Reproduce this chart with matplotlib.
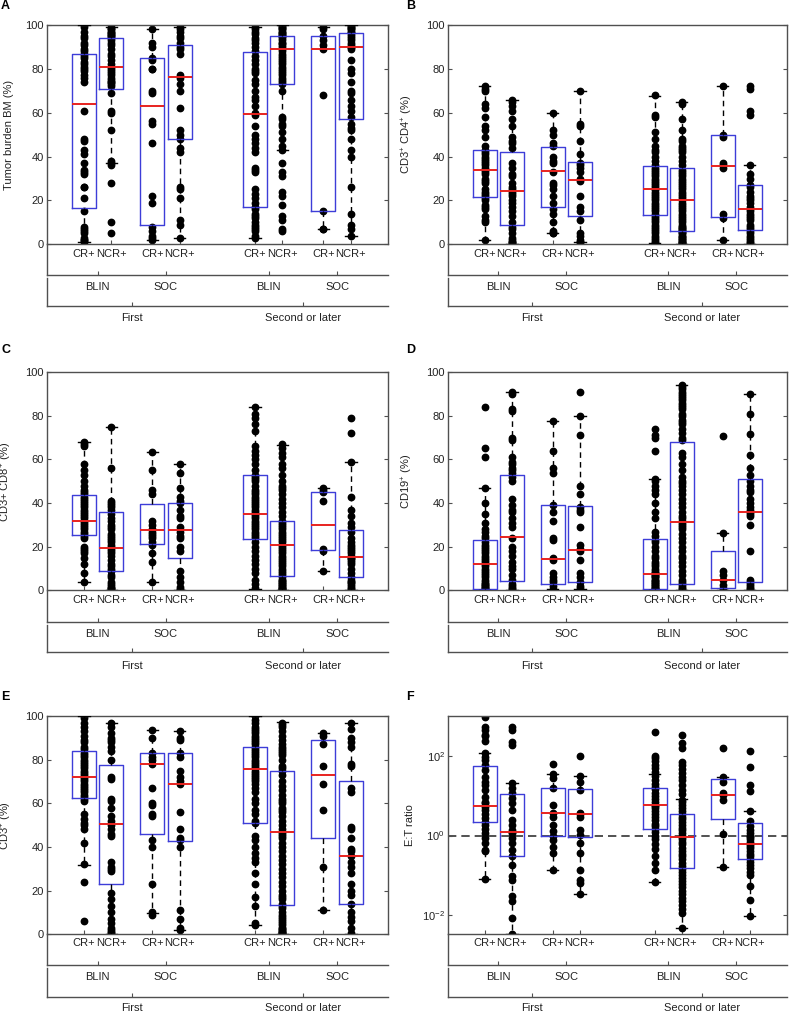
import numpy as np
import matplotlib.pyplot as plt

plt.rcParams['font.family'] = ['Liberation Sans', 'DejaVu Sans']
plt.rcParams['mathtext.fontset'] = 'custom'
plt.rcParams['mathtext.rm'] = 'Liberation Sans'
plt.rcParams['mathtext.it'] = 'Liberation Sans:italic'
plt.rcParams['font.size'] = 8

# group order: BLIN/First CR+, NCR+, SOC/First CR+, NCR+, BLIN/Second CR+, NCR+, SOC/Second CR+, NCR+
response = ['CR+', 'NCR+'] * 4
therapy = ['BLIN', 'SOC', 'BLIN', 'SOC']
line_of_therapy = ['First', 'Second or later']

# --- A: tumor burden BM (%)
tumor_bm = [
    [100, 99, 97, 95, 94, 92, 91, 89, 88, 87, 86, 85, 83, 82, 81, 80, 79, 77, 76, 74, 61, 48, 47, 43, 41, 37, 34, 33, 32, 26, 26, 21, 15, 8, 7, 6, 5, 3, 2, 2, 1],
    [99, 98, 98, 97, 97, 96, 96, 95, 95, 94, 93, 92, 91, 89, 87, 86, 84, 82, 81, 80, 79, 78, 77, 76, 75, 74, 74, 73, 72, 69, 61, 60, 52, 38, 37, 36, 28, 10, 5],
    [98, 92, 90, 85, 84, 80, 80, 70, 69, 56, 55, 46, 22, 19, 8, 6, 4, 3, 2],
    [99, 98, 97, 95, 94, 92, 90, 89, 87, 77, 76, 73, 70, 62, 52, 50, 48, 44, 42, 26, 25, 21, 11, 9, 3],
    [99, 98, 97, 96, 94, 93, 92, 90, 88, 86, 84, 82, 80, 79, 78, 75, 73, 70, 67, 66, 63, 60, 59, 54, 50, 48, 46, 44, 42, 35, 34, 33, 25, 23, 21, 19, 17, 16, 14, 13, 12, 10, 9, 8, 7, 6, 4, 3],
    [100, 99, 99, 98, 98, 97, 97, 96, 96, 95, 95, 94, 93, 92, 92, 91, 90, 89, 88, 87, 86, 85, 84, 83, 82, 81, 80, 79, 78, 77, 76, 75, 74, 73, 70, 58, 57, 55, 54, 51, 48, 45, 43, 37, 33, 31, 24, 22, 18, 13, 11, 7, 6],
    [99, 98, 95, 93, 91, 89, 68, 15, 7, 7],
    [100, 99, 99, 98, 98, 97, 97, 96, 95, 94, 93, 92, 91, 90, 90, 89, 84, 80, 78, 74, 70, 69, 66, 63, 61, 58, 55, 53, 52, 48, 43, 40, 26, 14, 9, 7, 4],
]
tumor_q1 = [16.5, 71, 9, 48, 17, 73, 15, 57]
tumor_med = [64, 81, 63, 76.5, 59.5, 89, 89, 90]
tumor_q3 = [87, 94, 85, 91, 87.5, 95, 95, 96.5]
tumor_lo = [1, 37, 2, 3, 3, 43, 7, 4]
tumor_hi = [100, 99, 98, 99, 99, 100, 99, 100]

# --- B: CD3+ CD4+ (%)
cd4 = [
    [72, 71, 70, 64, 62, 58, 54, 52, 49, 45, 43, 42, 41, 40, 39, 38, 37, 36, 35, 34, 33, 32, 30, 29, 28, 25, 24, 23, 22, 21, 20, 18, 17, 16, 13, 11, 10, 2],
    [66, 65, 63, 61, 57, 54, 49, 47, 46, 44, 37, 35, 32, 31, 28, 26, 25, 24, 23, 22, 20, 19, 17, 15, 13, 10, 8, 7, 5, 3, 2, 1, 1, 0.5],
    [60, 52, 50, 46, 45, 40, 38, 37, 33, 28, 27, 25, 22, 19, 16, 14, 10, 6, 5, 5],
    [70, 55, 54, 47, 41, 37, 36, 35, 33, 30, 29, 22, 17, 15, 11, 5, 4, 2, 1, 1],
    [68, 59, 58, 51, 48, 45, 43, 42, 40, 38, 36, 35, 34, 33, 32, 31, 30, 29, 28, 27, 26, 25, 25, 24, 23, 22, 21, 20, 19, 18, 17, 16, 15, 14, 13, 12, 11, 10, 9, 8, 7, 6, 5, 4, 3, 2, 1, 0.5],
    [65, 64, 57, 52, 48, 47, 45, 44, 43, 42, 40, 38, 36, 34, 33, 32, 31, 30, 29, 28, 27, 26, 25, 24, 23, 22, 21, 20, 19, 18, 17, 16, 15, 14, 13, 12, 11, 10, 9, 8, 8, 7, 7, 6, 6, 5, 5, 4, 4, 3, 3, 2, 2, 1, 1, 0.5, 0.5],
    [72, 50, 49, 37, 36, 35, 14, 12, 2],
    [72, 71, 61, 59, 36, 32, 30, 27, 26, 24, 22, 21, 20, 19, 17, 16, 15, 14, 13, 12, 11, 9, 8, 7, 6, 5, 4, 3, 2, 1, 0.5],
]
cd4_q1 = [21.5, 9, 17, 13, 13.5, 6, 12.5, 6.5]
cd4_med = [33.8, 24.5, 33.5, 29.5, 25, 20, 35.8, 16]
cd4_q3 = [43, 42, 44.5, 37.5, 35.5, 35, 50, 27]
cd4_lo = [2, 0.3, 5, 1, 0.5, 0.3, 2, 0.3]
cd4_hi = [72, 66, 60, 70, 67.6, 65, 72, 36]

# --- C: CD3+ CD8+ (%)
cd8 = [
    [68, 67, 66, 58, 55, 53, 50, 48, 46, 45, 44, 43, 42, 41, 40, 39, 38, 37, 36, 35, 34, 33, 32, 31, 30, 29, 28, 27, 26, 25, 24, 20, 19, 18, 17, 15, 12, 8, 4],
    [75, 56, 41, 40, 39, 38, 37, 35, 33, 32, 30, 29, 28, 26, 25, 24, 23, 22, 21, 20, 19, 18, 17, 16, 14, 12, 11, 10, 9, 7, 6, 4, 3, 2, 1, 1, 0.5],
    [63.5, 55, 46, 44, 32, 30, 28, 27, 26, 25, 24, 22, 21, 17, 13, 4],
    [57.7, 54, 47, 43, 41, 40, 37, 34, 33, 29, 27, 25, 24, 20, 18, 9, 6, 4, 1.5, 0.8, 0.3],
    [84, 81, 79, 76, 73, 66, 64, 62, 60, 58, 55, 53, 52, 51, 50, 48, 46, 45, 44, 43, 42, 41, 40, 39, 38, 37, 36, 35, 34, 33, 32, 31, 30, 29, 28, 27, 26, 25, 24, 22, 20, 18, 16, 14, 12, 10, 8, 5, 3, 1],
    [67, 65, 63, 61, 58, 56, 53, 50, 48, 47, 46, 44, 42, 40, 38, 36, 34, 32, 31, 30, 29, 28, 27, 26, 25, 24, 23, 22, 21, 20, 19, 18, 17, 16, 15, 14, 13, 12, 11, 10, 9, 8, 7, 6, 5, 5, 4, 4, 3, 3, 2, 2, 1, 1, 0.5, 0.5],
    [47, 46, 45, 41, 19, 18, 9],
    [79, 72, 59, 43, 37, 34, 31, 29, 27, 24, 22, 21, 20, 19, 18, 17, 16, 15, 15, 14, 13, 12, 10, 8, 6, 5, 4, 4, 3, 2, 1, 0.5],
]
cd8_q1 = [25.5, 9, 21.5, 15, 23.5, 6.5, 18.5, 6]
cd8_med = [32, 19.5, 27.5, 27.5, 35, 21, 30, 15.5]
cd8_q3 = [43.5, 36, 39.5, 40, 53, 32, 45, 27.5]
cd8_lo = [3.8, 0.3, 4, 0.3, 0.8, 0.3, 8.7, 0.3]
cd8_hi = [68, 75, 63.5, 57.7, 84, 66.7, 46.9, 59]

# --- D: CD19+ (%)
cd19 = [
    [84, 65, 61, 47, 40, 35, 31, 28, 27, 25, 24, 22, 21, 20, 19, 18, 17, 16, 15, 14, 13, 12, 11, 10, 9, 8, 7, 6, 5, 4, 3, 3, 2, 2, 1, 1, 0.5],
    [91, 90, 83, 82, 70, 69, 61, 59, 58, 56, 55, 54, 52, 50, 42, 39, 37, 36, 33, 31, 29, 24, 20, 18, 16, 13, 11, 10, 7, 5, 3, 2, 1, 0.5],
    [77.6, 64, 56, 54, 39, 36, 32, 24, 23, 15, 14, 8, 6, 5, 4, 2, 0.5],
    [91, 80, 71, 48, 44, 38, 37, 36, 29, 21, 19, 18, 14, 8, 6, 4, 2, 1],
    [74, 71, 70, 64, 51, 50, 48, 46, 44, 40, 36, 33, 27, 25, 23, 22, 20, 18, 16, 15, 13, 12, 11, 10, 9, 8, 8, 7, 7, 6, 6, 5, 5, 4, 4, 3, 3, 2, 2, 1, 1, 0.5, 0.5],
    [94, 93, 92, 91, 90, 89, 88, 87, 86, 85, 84, 83, 81, 80, 78, 77, 76, 74, 72, 70, 69, 63, 61, 58, 55, 52, 50, 49, 48, 46, 44, 42, 40, 38, 36, 34, 33, 32, 31, 30, 29, 28, 26, 24, 22, 20, 18, 16, 15, 13, 11, 9, 7, 5, 4, 3, 2, 1, 0.5],
    [70.7, 26.5, 9, 7, 5, 2.4, 1, 0.3],
    [90, 81, 71.5, 62, 56, 53, 50, 48, 46, 45, 42, 40, 38, 37, 36, 35, 34, 30, 18, 5, 4, 3, 2, 1, 0.5],
]
cd19_q1 = [0.8, 4.5, 3, 4, 0.5, 3, 1, 4]
cd19_med = [12, 24.5, 14.5, 18.5, 7.5, 31.5, 5, 36]
cd19_q3 = [23, 53, 39, 38.5, 23.5, 68, 18, 51]
cd19_lo = [0.3, 0.3, 0.5, 0.5, 0.3, 0.3, 0.3, 0.3]
cd19_hi = [47, 91, 77.6, 80, 51, 94, 26.5, 90]

# --- E: CD3+ (%)
cd3 = [
    [100, 99, 97, 95, 93, 91, 89, 88, 86, 85, 83, 82, 81, 80, 79, 78, 77, 76, 75, 74, 73, 72, 71, 70, 69, 68, 67, 66, 65, 64, 63, 62, 61, 55, 53, 51, 50, 48, 42, 32, 24, 6],
    [97, 95, 92, 90, 89, 88, 86, 84, 80, 72, 71, 62, 61, 58, 54, 52, 50, 48, 46, 45, 33, 31, 30, 29, 19, 16, 13, 10, 7, 5, 3, 2, 1, 0.5],
    [93.6, 90, 83, 81, 80, 78, 67, 60, 59, 55, 54, 43, 40, 23, 10, 9],
    [93.3, 90, 89, 83, 81, 75, 72, 70, 69, 56, 48, 44, 43, 40, 11, 7, 3, 2],
    [100, 98, 97, 95, 94, 93, 92, 91, 90, 89, 88, 87, 86, 85, 84, 83, 82, 81, 80, 79, 78, 77, 76, 75, 74, 73, 72, 71, 70, 69, 67, 65, 62, 60, 57, 55, 52, 51, 45, 43, 40, 37, 35, 33, 28, 23, 17, 13, 5, 4],
    [97, 96, 95, 93, 91, 89, 87, 86, 85, 84, 83, 82, 80, 77, 76, 75, 73, 70, 68, 66, 64, 62, 61, 60, 58, 57, 56, 54, 52, 50, 48, 47, 46, 45, 44, 42, 40, 38, 36, 34, 32, 30, 28, 26, 24, 22, 20, 18, 17, 16, 14, 13, 12, 10, 9, 8, 7, 6, 5, 4, 3, 3, 2, 2, 1, 1, 0.5, 0.5],
    [92, 91, 87, 77, 69, 57, 31, 11],
    [96.6, 94, 90, 88, 86, 78, 77, 67, 65, 49, 48, 44, 39, 38, 36, 33, 31, 28, 23, 20, 18, 14, 10, 8, 6, 3, 0.5],
]
cd3_q1 = [62.5, 23, 46, 42.5, 51, 13.5, 44, 14]
cd3_med = [72, 50.5, 78, 69, 75.5, 47, 73, 36]
cd3_q3 = [84, 77.5, 83, 83, 86, 75, 89, 70]
cd3_lo = [31.8, 0.3, 9.6, 2, 4, 0.3, 11, 0.3]
cd3_hi = [100, 96.6, 93.6, 93.3, 100, 97.4, 92, 96.6]

# --- F: E:T ratio
et_ratio = [
    [1000, 560, 460, 350, 320, 250, 120, 98, 80, 60, 45, 31, 23, 19, 14, 9.5, 7.2, 6.6, 5.4, 4.5, 3.6, 2.8, 2.2, 1.9, 1.5, 1.15, 0.85, 0.65, 0.44, 0.4, 0.08],
    [560, 460, 235, 195, 21, 15.5, 11.7, 8.7, 6.6, 4.4, 2.5, 1.85, 1.4, 1.2, 1.15, 0.86, 0.64, 0.44, 0.3, 0.18, 0.093, 0.076, 0.029, 0.022, 0.0083, 0.0032],
    [63, 35, 28, 16, 6, 3.8, 3, 1.9, 1.3, 1, 0.78, 0.53, 0.36, 0.135],
    [100, 32, 23, 14, 3.7, 3.5, 3, 1.4, 1.04, 0.64, 0.36, 0.135, 0.076, 0.063, 0.034],
    [420, 100, 90, 75, 60, 50, 40, 32, 25, 20, 17, 15, 12, 10, 8.5, 7, 6, 5.5, 5, 4.2, 3.6, 3, 2.5, 2, 1.7, 1.45, 1.2, 1.0, 0.8, 0.6, 0.45, 0.3, 0.2, 0.135, 0.066],
    [345, 213, 160, 73, 60, 48, 38, 30, 25, 19, 14, 11, 8, 7, 6, 5, 4.3, 3.6, 3, 2.6, 2.2, 1.9, 1.6, 1.35, 1.15, 1, 0.9, 0.8, 0.7, 0.6, 0.5, 0.42, 0.35, 0.3, 0.25, 0.2, 0.17, 0.14, 0.12, 0.1, 0.085, 0.07, 0.06, 0.05, 0.04, 0.033, 0.027, 0.022, 0.018, 0.014, 0.011, 0.0046],
    [166, 30, 23, 11.7, 10.6, 8, 1.07, 0.16],
    [135, 55, 19, 13, 4.3, 2.3, 1.7, 1.4, 1.15, 1.0, 0.9, 0.8, 0.7, 0.62, 0.55, 0.48, 0.4, 0.35, 0.3, 0.26, 0.22, 0.18, 0.15, 0.12, 0.1, 0.054, 0.024, 0.0094],
]
et_q1 = [2.2, 0.3, 1.0, 0.94, 1.45, 0.15, 2.7, 0.26]
et_med = [5.5, 1.2, 3.8, 3.5, 5.9, 0.94, 10.6, 0.62]
et_q3 = [58, 11.2, 16.2, 15, 16, 3.5, 27, 2.1]
et_lo = [0.08, 0.0032, 0.135, 0.034, 0.066, 0.0046, 0.16, 0.0094]
et_hi = [120, 21, 35, 32, 35, 8.5, 30, 4.3]

# layout (pixels)
W, H = 790, 1013
positions = [1, 2, 3.5, 4.5, 7.25, 8.25, 9.75, 10.75]
pair_mid = [1.5, 4.0, 7.75, 10.25]
group_mid = [2.75, 9.0]
xlim = (-0.36, 12.12)
cols = [(46.7, 388.3, 1), (447.7, 787, 406)]
# main top, main bottom, row1 bottom, row2 top, row2 bottom, label y, letter y
rows = [(25, 244.3, 275, 278.3, 306, 318, 6),
        (372, 590.5, 621.7, 625, 652, 665.7, 350),
        (716, 934.2, 965, 968, 996.7, 1008, 697)]

FRAME = '#505050'
TXT = '#222222'

fig = plt.figure(figsize=(W / 100, H / 100), dpi=100)


def px_axes(l, t, r, b):
    return fig.add_axes([l / W, 1 - b / H, (r - l) / W, (b - t) / H])


def draw_panel(col, row, letter, ylabel, values, q1, med, q3, lo, hi, log=False):
    l, r, letx = cols[col]
    t, b, r1b, r2t, r2b, ly, lety = rows[row]
    ax = px_axes(l, t, r, b)
    for x, vals in zip(positions, values):
        ax.plot([x] * len(vals), vals, 'o', color='k', ms=4.6, zorder=2)
    stats = [dict(med=m, q1=a, q3=c, whislo=w0, whishi=w1, fliers=[])
             for a, m, c, w0, w1 in zip(q1, med, q3, lo, hi)]
    ax.bxp(stats, positions=positions, widths=0.88, capwidths=0.42, showfliers=False,
           boxprops=dict(color='#3d3dd8', lw=1.0),
           medianprops=dict(color='#e8231f', lw=1.4),
           whiskerprops=dict(color='k', lw=1.0, ls=(0, (4, 3))),
           capprops=dict(color='k', lw=1.0),
           manage_ticks=False, zorder=3)
    ax.set_xlim(xlim)
    ax.set_xticks(positions)
    ax.set_xticklabels([])
    if log:
        ax.set_yscale('log')
        ax.set_ylim(10 ** -2.49, 10 ** 3.02)
        ax.set_yticks([1e-2, 1, 1e2])
        ax.set_yticklabels(['$10^{-2}$', '$10^{0}$', '$10^{2}$'])
        ax.minorticks_off()
        ax.axhline(1, color='#333333', lw=1.2, ls=(0, (5, 3)), zorder=1.5)
    else:
        ax.set_ylim(0, 100)
        ax.set_yticks(np.arange(0, 101, 20))
    ax.tick_params(direction='in', length=3, right=True, colors=FRAME, labelcolor=TXT,
                   labelsize=8, pad=2)
    ax.tick_params(axis='x', length=3)
    for s in ax.spines.values():
        s.set_color(FRAME)
        s.set_linewidth(1.0)
    ax.set_ylabel(ylabel, color=TXT, fontsize=8)
    ax.yaxis.set_label_coords(-33 / (r - l), 0.5)
    fig.text(letx / W, 1 - lety / H, letter, fontsize=9, fontweight='bold',
             ha='left', va='center')

    # label rows below the axes: response, then therapy and line of therapy
    ax1 = px_axes(l, b, r, r1b)
    ax2 = px_axes(l, r2t, r, r2b)
    for a, ticks in ((ax1, pair_mid), (ax2, group_mid)):
        a.set_xlim(xlim)
        a.set_ylim(0, 1)
        a.set_facecolor('none')
        a.spines[['top', 'right']].set_visible(False)
        for s in ('left', 'bottom'):
            a.spines[s].set_color(FRAME)
            a.spines[s].set_linewidth(1.0)
        a.set_yticks([])
        a.set_xticks(ticks)
        a.set_xticklabels([])
        a.tick_params(axis='x', direction='in', length=3, colors=FRAME)
    for x, lab in zip(positions, response):
        ax1.text(x, 0.7, lab, ha='center', va='center', color=TXT, fontsize=8)
    for x, lab in zip(pair_mid, therapy):
        ax2.text(x, 0.68, lab, ha='center', va='center', color=TXT, fontsize=8)
    for x, lab in zip(group_mid, line_of_therapy):
        ax2.text(x, -(ly - r2b) / (r2b - r2t), lab, ha='center', va='center',
                 color=TXT, fontsize=8)


draw_panel(0, 0, 'A', 'Tumor burden BM (%)', tumor_bm,
           tumor_q1, tumor_med, tumor_q3, tumor_lo, tumor_hi)
draw_panel(1, 0, 'B', 'CD3$^{+}$ CD4$^{+}$ (%)', cd4,
           cd4_q1, cd4_med, cd4_q3, cd4_lo, cd4_hi)
draw_panel(0, 1, 'C', 'CD3+ CD8$^{+}$ (%)', cd8,
           cd8_q1, cd8_med, cd8_q3, cd8_lo, cd8_hi)
draw_panel(1, 1, 'D', 'CD19$^{+}$ (%)', cd19,
           cd19_q1, cd19_med, cd19_q3, cd19_lo, cd19_hi)
draw_panel(0, 2, 'E', 'CD3$^{+}$ (%)', cd3,
           cd3_q1, cd3_med, cd3_q3, cd3_lo, cd3_hi)
draw_panel(1, 2, 'F', 'E:T ratio', et_ratio,
           et_q1, et_med, et_q3, et_lo, et_hi, log=True)

fig.savefig('out.png', dpi=100)
